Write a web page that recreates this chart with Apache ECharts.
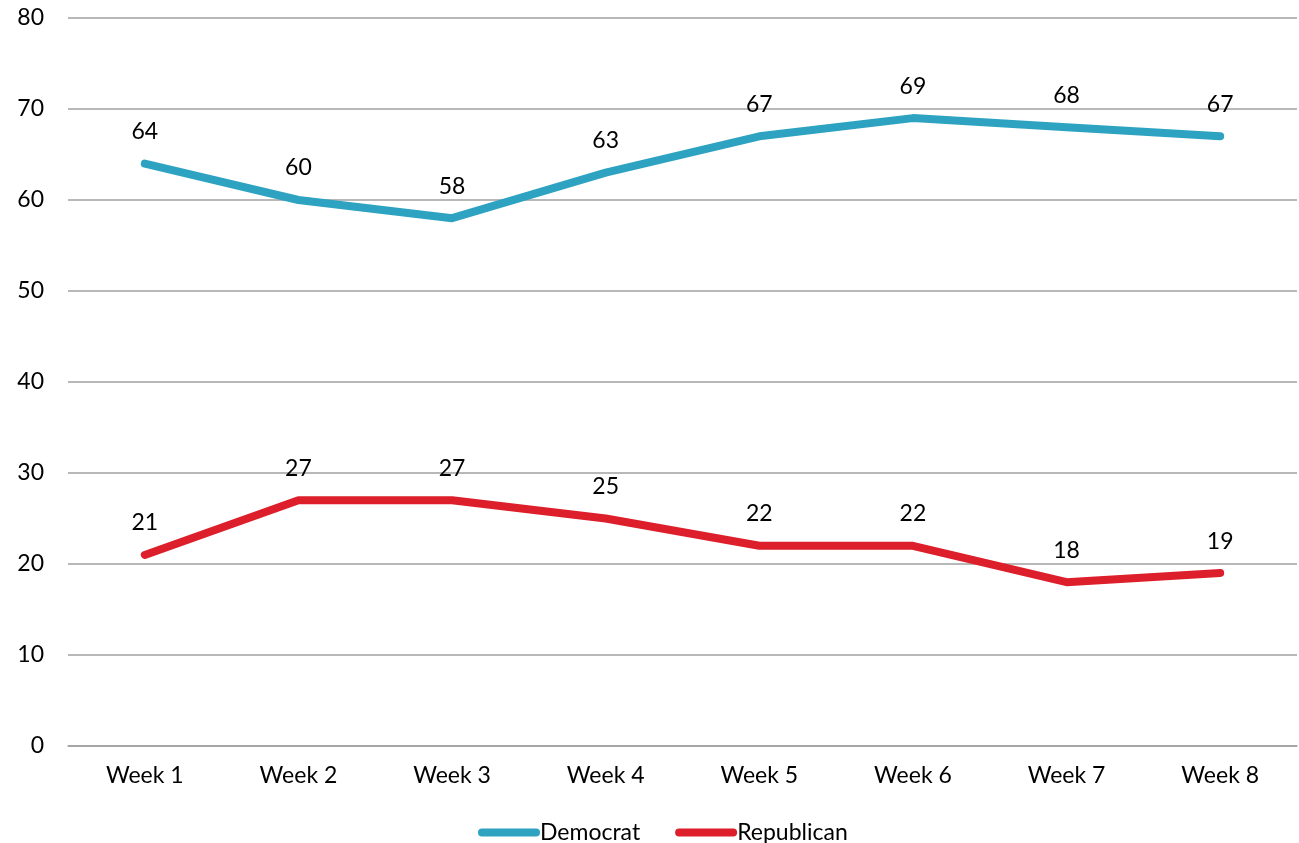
<!DOCTYPE html>
<html>
<head>
<meta charset="utf-8">
<script src="https://cdn.jsdelivr.net/npm/echarts@6/dist/echarts.min.js"></script>
<style>
html, body { margin: 0; padding: 0; background: #fff; }
#chart { width: 1299px; height: 843px; }
</style>
</head>
<body>
<div id="chart"></div>
<script>
const weeks = ['Week 1', 'Week 2', 'Week 3', 'Week 4', 'Week 5', 'Week 6', 'Week 7', 'Week 8']
const democrat = [64, 60, 58, 63, 67, 69, 68, 67]
const republican = [21, 27, 27, 25, 22, 22, 18, 19]

const font = 'Lato, "Open Sans", sans-serif'
const fs = 23
const chart = echarts.init(document.getElementById('chart'))

function lineSeries (name, data, color) {
  return {
    name: name,
    type: 'line',
    data: data,
    symbol: 'circle',
    symbolSize: 1,
    lineStyle: { width: 8, color: color, cap: 'round', join: 'round' },
    itemStyle: { color: color },
    label: {
      show: true,
      position: 'top',
      distance: 20,
      color: '#000',
      fontSize: fs,
      fontFamily: font
    },
    emphasis: { disabled: true },
    animation: false
  }
}

const option = {
  grid: { top: 18, left: 68, right: 2, bottom: 97 },
  legend: {
    top: 816,
    left: 473,
    itemWidth: 62,
    itemHeight: 8,
    itemGap: 35,
    icon: 'path://M4,0 H58 A4,4 0 0 1 58,8 H4 A4,4 0 0 1 4,0 Z',
    textStyle: { fontSize: fs, color: '#000', fontFamily: font, padding: [0, 0, 0, -5] },
    data: ['Democrat', 'Republican']
  },
  xAxis: {
    type: 'category',
    data: weeks,
    axisLine: { lineStyle: { color: '#a0a0a0', width: 1.5 } },
    axisTick: { show: false },
    axisLabel: { fontSize: fs, color: '#000', fontFamily: font, margin: 18 }
  },
  yAxis: {
    type: 'value',
    min: 0,
    max: 80,
    interval: 10,
    axisLine: { show: false },
    axisTick: { show: false },
    splitLine: { lineStyle: { color: '#a0a0a0', width: 1.5 } },
    axisLabel: { fontSize: fs, color: '#000', fontFamily: font, margin: 24 }
  },
  series: [
    lineSeries('Democrat', democrat, '#2da3c1'),
    lineSeries('Republican', republican, '#dc1f2a')
  ]
}
chart.setOption(option)
</script>
</body>
</html>
